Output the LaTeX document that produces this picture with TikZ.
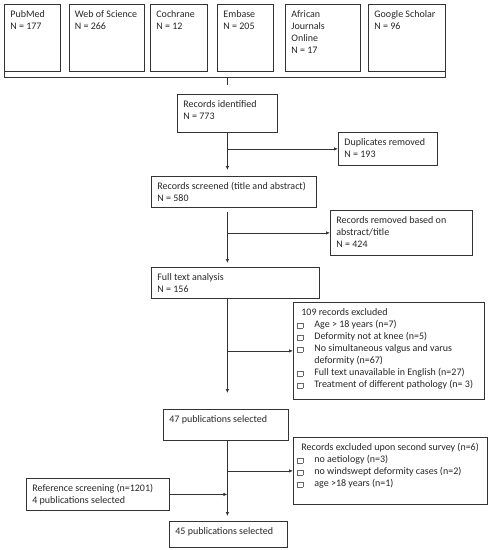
\documentclass[tikz,border=0pt]{standalone}
\usepackage{fontspec}
\setmainfont{Carlito}
\usetikzlibrary{arrows.meta}

\definecolor{linegray}{HTML}{333333}
\newcommand\bx[3]{\parbox[c][\dimexpr#2pt-10pt\relax][t]{\dimexpr#1pt-12pt\relax}{\raggedright\strut #3}}
\newcommand\sqbul{{\color{black!60}\setlength\fboxsep{0pt}\setlength\fboxrule{0.4pt}\fbox{\rule{0pt}{4.8pt}\rule{4.8pt}{0pt}}}}
\newcommand\itm[1]{\par\hangindent=15pt\hangafter=1\noindent\hspace*{-2pt}\makebox[17pt][l]{\sqbul}#1}

\tikzset{
  box/.style={draw=linegray, line width=0.8pt, inner xsep=6pt, inner ysep=5pt,
    anchor=north west, font=\fontsize{10}{12}\selectfont, text=black!85},
  conn/.style={draw=linegray, line width=0.7pt},
  arr/.style={conn, -{Latex[length=4pt,width=3.5pt]}}
}

\begin{document}
\begin{tikzpicture}[x=1pt,y=-1pt]
        \useasboundingbox (0,0) rectangle (490,550);

        % sources
        \node[box] (pub) at (4,3.5) {\bx{56}{67.5}{PubMed\\N = 177}};
        \node[box] (wos) at (68.5,3.5) {\bx{75.5}{67.5}{Web of Science\\N = 266}};
        \node[box] (coch) at (150,3.5) {\bx{57}{67.5}{Cochrane\\N = 12}};
        \node[box] (emb) at (217,3.5) {\bx{56}{67.5}{Embase\\N = 205}};
        \node[box] (afr) at (285,3.5) {\bx{75}{67.5}{African\\Journals\\Online\\N = 17}};
        \node[box] (gs) at (368,3.5) {\bx{77}{67.5}{Google Scholar\\N = 96}};

        % main column
        \node[box] (ident) at (177,94) {\bx{100}{38}{Records identified\\N = 773}};
        \node[box] (dup) at (338,132) {\bx{99}{33}{Duplicates removed\\N = 193}};
        \node[box] (scr) at (151,176) {\bx{165}{31}{Records screened (title and abstract)\\N = 580}};
        \node[box] (rem) at (330,210) {\bx{142}{45}{Records removed based on\\abstract/title\\N = 424}};
        \node[box] (full) at (151,267) {\bx{168}{31}{Full text analysis\\N = 156}};
        \node[box] (exc) at (293,302) {\bx{191}{97}{\hspace*{2pt}109 records excluded
            \itm{Age > 18 years (n=7)}
            \itm{Deformity not at knee (n=5)}
            \itm{No simultaneous valgus and varus\newline deformity (n=67)}
            \itm{Full text unavailable in English (n=27)}
            \itm{Treatment of different pathology (n= 3)}}};
        \node[box] (p47) at (163,409) {\bx{125}{31}{47 publications selected}};
        \node[box] (sec) at (293,437) {\bx{194}{67}{\hspace*{2pt}Records excluded upon second survey (n=6)
            \itm{no aetiology (n=3)}
            \itm{no windswept deformity cases (n=2)}
            \itm{age >18 years (n=1)}}};
        \node[box] (ref) at (26,478) {\bx{143}{32}{Reference screening (n=1201)\\4 publications selected}};
        \node[box] (p45) at (169,521) {\bx{118}{26}{45 publications selected}};

        % bracket under the sources
        \coordinate (brl) at ([yshift=-6pt]pub.south west);
        \draw[conn] (pub.south west) -- (brl) -- (brl -| gs.south east) -- (gs.south east);
        \draw[conn] (brl -| ident.north) -- ++(0,7);

        % flow
        \draw[arr] (ident.south) -- ([yshift=6pt]ident.south |- scr.north);
        \draw[arr] (ident.south |- dup.west) -- (dup.west);
        \draw[arr] ([yshift=-4pt]ident.south |- scr.south) -- ([yshift=4pt]ident.south |- full.north);
        \draw[arr] (ident.south |- rem.west) -- (rem.west);
        \draw[arr] (ident.south |- full.south) -- ([yshift=16pt]ident.south |- p47.north);
        \draw[arr] (ident.south |- exc.west) -- (exc.west);
        \draw[arr] (ident.south |- p47.south) -- ([yshift=5pt]ident.south |- p45.north);
        \draw[arr] (ident.south |- sec.west) -- (sec.west);
        \draw[arr] (ref.east) -- (ref.east -| ident.south);
\end{tikzpicture}
\end{document}
